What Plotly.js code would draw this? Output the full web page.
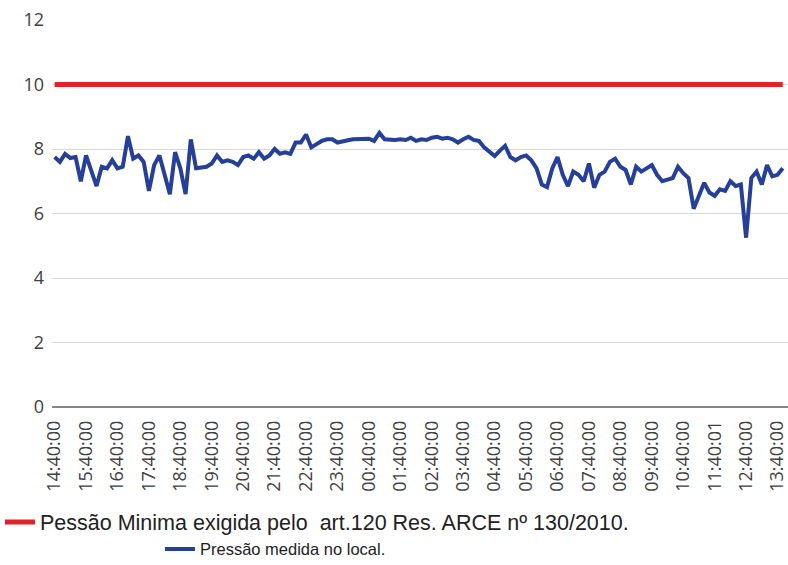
<!DOCTYPE html>
<html>
<head>
<meta charset="utf-8">
<script src="https://cdn.plot.ly/plotly-3.0.1.min.js"></script>
<style>html,body{margin:0;padding:0;background:#fff;}#chart{width:788px;height:565px;}</style>
</head>
<body>
<div id="chart"></div>
<script>
var times = [
"14:40:00","14:50:00","15:00:00","15:10:00","15:20:00","15:30:00",
"15:40:00","15:50:00","16:00:00","16:10:00","16:20:00","16:30:00",
"16:40:00","16:50:00","17:00:00","17:10:00","17:20:00","17:30:00",
"17:40:00","17:50:00","18:00:00","18:10:00","18:20:00","18:30:00",
"18:40:00","18:50:00","19:00:00","19:10:00","19:20:00","19:30:00",
"19:40:00","19:50:00","20:00:00","20:10:00","20:20:00","20:30:00",
"20:40:00","20:50:00","21:00:00","21:10:00","21:20:00","21:30:00",
"21:40:00","21:50:00","22:00:00","22:10:00","22:20:00","22:30:00",
"22:40:00","22:50:00","23:00:00","23:10:00","23:20:00","23:30:00",
"23:40:00","23:50:00","00:00:00","00:10:00","00:20:00","00:30:00",
"00:40:00","00:50:00","01:00:00","01:10:00","01:20:00","01:30:00",
"01:40:00","01:50:00","02:00:00","02:10:00","02:20:00","02:30:00",
"02:40:00","02:50:00","03:00:00","03:10:00","03:20:00","03:30:00",
"03:40:00","03:50:00","04:00:00","04:10:00","04:20:00","04:30:00",
"04:40:00","04:50:00","05:00:00","05:10:00","05:20:00","05:30:00",
"05:40:00","05:50:00","06:00:00","06:10:00","06:20:00","06:30:00",
"06:40:00","06:50:00","07:00:00","07:10:00","07:20:00","07:30:00",
"07:40:00","07:50:00","08:00:00","08:10:00","08:20:00","08:30:00",
"08:40:00","08:50:00","09:00:00","09:10:00","09:20:00","09:30:00",
"09:40:00","09:50:00","10:00:00","10:10:00","10:20:00","10:30:00",
"10:40:00","10:50:00","11:00:00","11:10:00","11:20:00","11:30:00",
"11:40:01","11:50:00","12:00:00","12:10:00","12:20:00","12:30:00",
"12:40:00","12:50:00","13:00:00","13:10:00","13:20:00","13:30:00",
"13:40:00","13:50:00"
];

var pressaoMedida = [
7.75,7.6,7.85,7.72,7.75,7.0,
7.8,7.3,6.85,7.45,7.4,7.65,
7.4,7.45,8.4,7.7,7.8,7.6,
6.7,7.5,7.8,7.2,6.6,7.9,
7.4,6.6,8.3,7.4,7.42,7.45,
7.55,7.8,7.6,7.65,7.6,7.5,
7.75,7.8,7.7,7.9,7.7,7.8,
8.0,7.85,7.9,7.85,8.2,8.2,
8.45,8.05,8.15,8.25,8.3,8.3,
8.2,8.25,8.27,8.3,8.3,8.3,
8.32,8.25,8.5,8.3,8.28,8.28,
8.3,8.28,8.35,8.25,8.3,8.28,
8.35,8.38,8.32,8.35,8.3,8.2,
8.3,8.38,8.28,8.25,8.05,7.9,
7.78,7.95,8.1,7.75,7.65,7.75,
7.8,7.65,7.4,6.9,6.82,7.4,
7.75,7.2,6.85,7.3,7.2,7.0,
7.55,6.8,7.2,7.3,7.6,7.7,
7.45,7.35,6.9,7.45,7.3,7.4,
7.5,7.2,7.0,7.05,7.1,7.45,
7.25,7.1,6.15,6.55,6.95,6.65,
6.55,6.75,6.7,7.0,6.85,6.9,
5.25,7.1,7.3,6.9,7.5,7.15,
7.2,7.4
];

var pressaoMinima = [
10,10,10,10,10,10,10,10,10,10,10,10,10,10,10,10,10,10,10,10,
10,10,10,10,10,10,10,10,10,10,10,10,10,10,10,10,10,10,10,10,
10,10,10,10,10,10,10,10,10,10,10,10,10,10,10,10,10,10,10,10,
10,10,10,10,10,10,10,10,10,10,10,10,10,10,10,10,10,10,10,10,
10,10,10,10,10,10,10,10,10,10,10,10,10,10,10,10,10,10,10,10,
10,10,10,10,10,10,10,10,10,10,10,10,10,10,10,10,10,10,10,10,
10,10,10,10,10,10,10,10,10,10,10,10,10,10,10,10,10,10,10,10
];

var nomeMinima = "Pessão Minima exigida pelo  art.120 Res. ARCE nº 130/2010.";
var nomeMedida = "Pressão medida no local.";

var traces = [
  {x: times, y: pressaoMinima, type: "scatter", mode: "lines", name: nomeMinima,
   line: {color: "#e3212b", width: 5}, legend: "legend", hoverinfo: "skip"},
  {x: times, y: pressaoMedida, type: "scatter", mode: "lines", name: nomeMedida,
   line: {color: "#263f98", width: 4}, legend: "legend2"}
];

var layout = {
  width: 788, height: 565,
  margin: {l: 52, r: 0, t: 20, b: 158, autoexpand: false},
  paper_bgcolor: "#ffffff", plot_bgcolor: "#ffffff",
  font: {family: "Open Sans, sans-serif", color: "#404040"},
  xaxis: {
    type: "category",
    range: [-0.5, 140],
    tickmode: "linear", tick0: 0, dtick: 6,
    tickangle: -90,
    tickfont: {size: 18, color: "#404040"},
    showgrid: false, zeroline: false,
    showline: false, ticks: "", ticklen: 0, ticklabelstandoff: 9,
    automargin: false
  },
  yaxis: {
    range: [0, 12],
    dtick: 2,
    tickfont: {size: 18, color: "#404040"},
    showgrid: true, gridcolor: "#d9d9d9", gridwidth: 1,
    zeroline: true, zerolinecolor: "#868686", zerolinewidth: 2,
    showline: false, ticks: "", ticklabelstandoff: 7,
    automargin: false
  },
  showlegend: true,
  legend: {
    xref: "container", yref: "container",
    x: 0.0, y: 0.076, xanchor: "left", yanchor: "middle",
    font: {family: "Liberation Sans, Arial, sans-serif", size: 21.5, color: "#222222"},
    bgcolor: "rgba(0,0,0,0)", itemwidth: 30
  },
  legend2: {
    xref: "container", yref: "container",
    x: 0.203, y: 0.028, xanchor: "left", yanchor: "middle",
    font: {family: "Liberation Sans, Arial, sans-serif", size: 16.5, color: "#222222"},
    bgcolor: "rgba(0,0,0,0)", itemwidth: 30
  }
};

Plotly.newPlot("chart", traces, layout, {displayModeBar: false, staticPlot: true});
</script>
</body>
</html>
